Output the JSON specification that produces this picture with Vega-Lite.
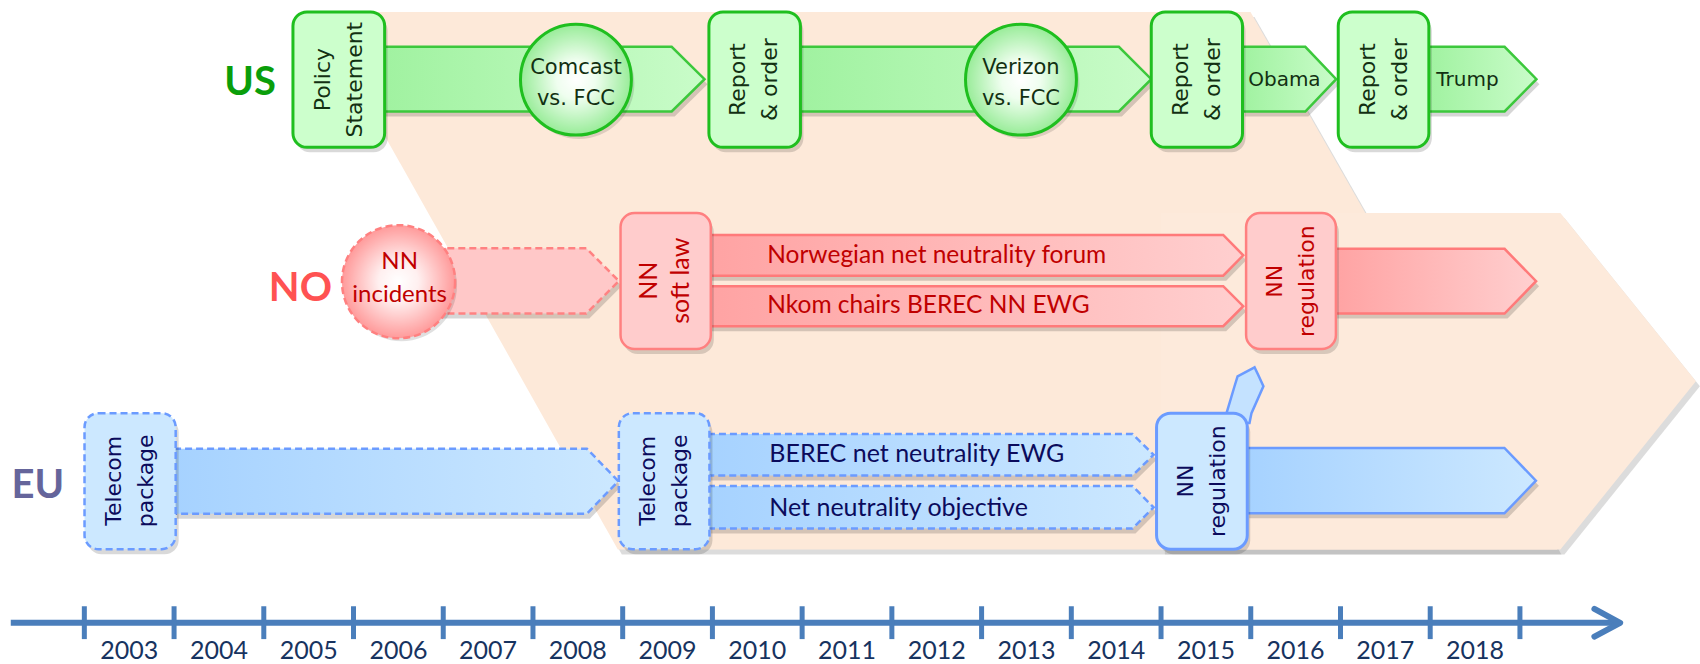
{
  "$schema": "https://vega.github.io/schema/vega-lite/v6.json",
  "width": 1700,
  "height": 664,
  "padding": 0,
  "autosize": {"type": "fit", "contains": "padding"},
  "background": "white",
  "config": {"view": {"stroke": null}},
  "datasets": {
    "peachA": [
      {"y": 12, "x": 2005.570, "x2": 2015.997},
      {"y": 552, "x": 2008.946, "x2": 2019.418}
    ],
    "peachB": [
      {"x": 2014.998, "y": 214, "y2": 552},
      {"x": 2019.451, "y": 214, "y2": 552},
      {"x": 2020.961, "y": 383, "y2": 383}
    ],
    "axisLine": [{"x": 2002.18, "x2": 2020.07, "y": 625.6}],
    "ticks": [
      {"x": 2003, "y": 609, "y2": 642}, {"x": 2004, "y": 609, "y2": 642}, {"x": 2005, "y": 609, "y2": 642},
      {"x": 2006, "y": 609, "y2": 642}, {"x": 2007, "y": 609, "y2": 642}, {"x": 2008, "y": 609, "y2": 642},
      {"x": 2009, "y": 609, "y2": 642}, {"x": 2010, "y": 609, "y2": 642}, {"x": 2011, "y": 609, "y2": 642},
      {"x": 2012, "y": 609, "y2": 642}, {"x": 2013, "y": 609, "y2": 642}, {"x": 2014, "y": 609, "y2": 642},
      {"x": 2015, "y": 609, "y2": 642}, {"x": 2016, "y": 609, "y2": 642}, {"x": 2017, "y": 609, "y2": 642},
      {"x": 2018, "y": 609, "y2": 642}, {"x": 2019, "y": 609, "y2": 642}
    ],
    "arrowHead": [
      {"x": 2019.83, "y": 611.7, "o": 1},
      {"x": 2020.117, "y": 625.6, "o": 2},
      {"x": 2019.83, "y": 639.5, "o": 3}
    ],
    "years": [
      {"t": "2003", "x": 2003.5, "y": 654}, {"t": "2004", "x": 2004.5, "y": 654},
      {"t": "2005", "x": 2005.5, "y": 654}, {"t": "2006", "x": 2006.5, "y": 654},
      {"t": "2007", "x": 2007.5, "y": 654}, {"t": "2008", "x": 2008.5, "y": 654},
      {"t": "2009", "x": 2009.5, "y": 654}, {"t": "2010", "x": 2010.5, "y": 654},
      {"t": "2011", "x": 2011.5, "y": 654}, {"t": "2012", "x": 2012.5, "y": 654},
      {"t": "2013", "x": 2013.5, "y": 654}, {"t": "2014", "x": 2014.5, "y": 654},
      {"t": "2015", "x": 2015.5, "y": 654}, {"t": "2016", "x": 2016.5, "y": 654},
      {"t": "2017", "x": 2017.5, "y": 654}, {"t": "2018", "x": 2018.5, "y": 654}
    ],
    "arrows": [
      {"g": "us", "a": "us1", "x": 2006.30, "y": 47, "y2": 112},
      {"g": "us", "a": "us1", "x": 2009.546, "y": 47, "y2": 112},
      {"g": "us", "a": "us1", "x": 2009.912, "y": 79.5, "y2": 79.5},
      {"g": "us", "a": "us2", "x": 2010.95, "y": 47, "y2": 112},
      {"g": "us", "a": "us2", "x": 2014.530, "y": 47, "y2": 112},
      {"g": "us", "a": "us2", "x": 2014.891, "y": 79.5, "y2": 79.5},
      {"g": "us", "a": "us3", "x": 2015.90, "y": 47, "y2": 112},
      {"g": "us", "a": "us3", "x": 2016.608, "y": 47, "y2": 112},
      {"g": "us", "a": "us3", "x": 2016.952, "y": 79.5, "y2": 79.5},
      {"g": "us", "a": "us4", "x": 2017.97, "y": 47, "y2": 112},
      {"g": "us", "a": "us4", "x": 2018.829, "y": 47, "y2": 112},
      {"g": "us", "a": "us4", "x": 2019.184, "y": 79.5, "y2": 79.5},
      {"g": "noD", "a": "noInc", "x": 2006.8, "y": 249.5, "y2": 315},
      {"g": "noD", "a": "noInc", "x": 2008.595, "y": 249.5, "y2": 315},
      {"g": "noD", "a": "noInc", "x": 2008.957, "y": 282.25, "y2": 282.25},
      {"g": "no", "a": "noNor", "x": 2009.95, "y": 236, "y2": 277},
      {"g": "no", "a": "noNor", "x": 2015.693, "y": 236, "y2": 277},
      {"g": "no", "a": "noNor", "x": 2015.916, "y": 256.5, "y2": 256.5},
      {"g": "no", "a": "noNkom", "x": 2009.95, "y": 287.5, "y2": 327.7},
      {"g": "no", "a": "noNkom", "x": 2015.693, "y": 287.5, "y2": 327.7},
      {"g": "no", "a": "noNkom", "x": 2015.916, "y": 307.6, "y2": 307.6},
      {"g": "no", "a": "noReg", "x": 2016.93, "y": 250, "y2": 315},
      {"g": "no", "a": "noReg", "x": 2018.829, "y": 250, "y2": 315},
      {"g": "no", "a": "noReg", "x": 2019.180, "y": 282.5, "y2": 282.5},
      {"g": "euD", "a": "eu1", "x": 2004.00, "y": 450.7, "y2": 516},
      {"g": "euD", "a": "eu1", "x": 2008.601, "y": 450.7, "y2": 516},
      {"g": "euD", "a": "eu1", "x": 2008.951, "y": 483.35, "y2": 483.35},
      {"g": "euD", "a": "euBerec", "x": 2009.95, "y": 436, "y2": 477.7},
      {"g": "euD", "a": "euBerec", "x": 2014.682, "y": 436, "y2": 477.7},
      {"g": "euD", "a": "euBerec", "x": 2014.917, "y": 456.85, "y2": 456.85},
      {"g": "euD", "a": "euObj", "x": 2009.95, "y": 488.3, "y2": 531},
      {"g": "euD", "a": "euObj", "x": 2014.682, "y": 488.3, "y2": 531},
      {"g": "euD", "a": "euObj", "x": 2014.917, "y": 509.65, "y2": 509.65},
      {"g": "eu", "a": "euReg", "x": 2015.95, "y": 450, "y2": 515.7},
      {"g": "eu", "a": "euReg", "x": 2018.827, "y": 450, "y2": 515.7},
      {"g": "eu", "a": "euReg", "x": 2019.178, "y": 482.85, "y2": 482.85}
    ],
    "euSmall": [
      {"y": 369, "x": 2016.042, "x2": 2016.042},
      {"y": 378, "x": 2015.853, "x2": 2016.090},
      {"y": 388, "x": 2015.819, "x2": 2016.141},
      {"y": 415, "x": 2015.730, "x2": 2016.008},
      {"y": 425, "x": 2015.697, "x2": 2015.986}
    ],
    "boxes": [
      {"g": "us", "x": 2005.325, "x2": 2006.347, "y": 12, "y2": 148},
      {"g": "us", "x": 2009.961, "x2": 2010.981, "y": 12, "y2": 148},
      {"g": "us", "x": 2014.891, "x2": 2015.908, "y": 12, "y2": 148},
      {"g": "us", "x": 2016.975, "x2": 2017.985, "y": 12, "y2": 148},
      {"g": "no", "x": 2008.976, "x2": 2009.982, "y": 214, "y2": 350.5},
      {"g": "no", "x": 2015.948, "x2": 2016.949, "y": 214, "y2": 350.5},
      {"g": "euD", "x": 2003.002, "x2": 2004.018, "y": 415, "y2": 551.7},
      {"g": "euD", "x": 2008.957, "x2": 2009.967, "y": 415, "y2": 551.7},
      {"g": "eu", "x": 2014.950, "x2": 2015.961, "y": 415, "y2": 551.7}
    ],
    "circles": [
      {"g": "us", "x": 2008.479, "y": 80},
      {"g": "us", "x": 2013.439, "y": 80},
      {"g": "no", "x": 2006.502, "y": 283}
    ],
    "texts": [
      {"g": "usBox", "t": "Policy\nStatement", "x": 2005.658, "y": 80},
      {"g": "usBox", "t": "Report\n& order", "x": 2010.289, "y": 80},
      {"g": "usBox", "t": "Report\n& order", "x": 2015.222, "y": 80},
      {"g": "usBox", "t": "Report\n& order", "x": 2017.302, "y": 80},
      {"g": "usCirc", "t": "Comcast\nvs. FCC", "x": 2008.479, "y": 68.5},
      {"g": "usCirc", "t": "Verizon\nvs. FCC", "x": 2013.439, "y": 68.5},
      {"g": "usArr", "t": "Obama", "x": 2016.375, "y": 80},
      {"g": "usArr", "t": "Trump", "x": 2018.415, "y": 80},
      {"g": "noCirc", "t": "NN\nincidents", "x": 2006.514, "y": 263},
      {"g": "noSoft", "t": "NN\nsoft law", "x": 2009.295, "y": 282},
      {"g": "noBox", "t": "NN\nregulation", "x": 2016.271, "y": 282.5},
      {"g": "noArr", "t": "Norwegian net neutrality forum", "x": 2010.611, "y": 257},
      {"g": "noArr", "t": "Nkom chairs BEREC NN EWG", "x": 2010.611, "y": 307},
      {"g": "euBox", "t": "Telecom\npackage", "x": 2003.332, "y": 483},
      {"g": "euBox", "t": "Telecom\npackage", "x": 2009.284, "y": 483},
      {"g": "euBox", "t": "NN\nregulation", "x": 2015.277, "y": 483.3},
      {"g": "euArr", "t": "BEREC net neutrality EWG", "x": 2010.634, "y": 456.5},
      {"g": "euArr", "t": "Net neutrality objective", "x": 2010.634, "y": 510}
    ],
    "labels": [
      {"t": "US", "x": 2004.848, "y": 83},
      {"t": "NO", "x": 2005.408, "y": 290},
      {"t": "EU", "x": 2002.483, "y": 488}
    ]
  },
  "encoding": {
    "x": {"field": "x", "type": "quantitative", "scale": {"domain": [2002.06, 2020.94], "nice": false, "zero": false}, "axis": null},
    "y": {"field": "y", "type": "quantitative", "scale": {"domain": [0, 664], "reverse": true, "nice": false, "zero": false}, "axis": null, "stack": null}
  },
  "layer": [
    {"data": {"name": "peachA"}, "mark": {"type": "area", "orient": "horizontal", "fill": "#8a8a8a", "fillOpacity": 0.3, "xOffset": 4, "x2Offset": 4, "yOffset": 5, "y2Offset": 5}, "encoding": {"x2": {"field": "x2"}}},
    {"data": {"name": "peachB"}, "mark": {"type": "area", "orient": "vertical", "fill": "#8a8a8a", "fillOpacity": 0.3, "xOffset": 4, "x2Offset": 4, "yOffset": 5, "y2Offset": 5}, "encoding": {"y2": {"field": "y2"}}},
    {"data": {"name": "peachA"}, "mark": {"type": "area", "orient": "horizontal", "fill": "#fde9d9"}, "encoding": {"x2": {"field": "x2"}}},
    {"data": {"name": "peachB"}, "mark": {"type": "area", "orient": "vertical", "fill": "#fdeadb"}, "encoding": {"y2": {"field": "y2"}}},
    {"data": {"name": "axisLine"}, "mark": {"type": "rule", "color": "#4a7ebb", "strokeWidth": 6}, "encoding": {"x2": {"field": "x2"}}},
    {"data": {"name": "ticks"}, "mark": {"type": "rule", "color": "#4a7ebb", "strokeWidth": 5}, "encoding": {"y2": {"field": "y2"}}},
    {"data": {"name": "arrowHead"}, "mark": {"type": "line", "color": "#4a7ebb", "strokeWidth": 6, "strokeCap": "round", "strokeJoin": "round"}, "encoding": {"order": {"field": "o", "type": "quantitative"}}},
    {"data": {"name": "years"}, "mark": {"type": "text", "font": "Lato", "fontSize": 25, "color": "#17335f", "align": "center", "baseline": "middle"}, "encoding": {"text": {"field": "t"}}},

    {"data": {"name": "arrows"}, "mark": {"type": "area", "orient": "vertical", "fill": "#000000", "fillOpacity": 0.16, "xOffset": 3, "x2Offset": 3, "yOffset": 5, "y2Offset": 5}, "encoding": {"y2": {"field": "y2"}, "detail": {"field": "a"}}},
    {"data": {"name": "arrows"}, "transform": [{"filter": "datum.g == 'us'"}], "mark": {"type": "area", "orient": "vertical", "fill": {"gradient": "linear", "x1": 0, "y1": 0, "x2": 1, "y2": 0, "stops": [{"offset": 0, "color": "#a0f2a0"}, {"offset": 1, "color": "#c9fcc9"}]}, "stroke": "#3cc83c", "strokeWidth": 2.5}, "encoding": {"y2": {"field": "y2"}, "detail": {"field": "a"}}},
    {"data": {"name": "arrows"}, "transform": [{"filter": "datum.g == 'noD'"}], "mark": {"type": "area", "orient": "vertical", "fill": "#ffc8c8", "stroke": "#ff8282", "strokeWidth": 2.5, "strokeDash": [7, 4]}, "encoding": {"y2": {"field": "y2"}, "detail": {"field": "a"}}},
    {"data": {"name": "arrows"}, "transform": [{"filter": "datum.g == 'no'"}], "mark": {"type": "area", "orient": "vertical", "fill": {"gradient": "linear", "x1": 0, "y1": 0, "x2": 1, "y2": 0, "stops": [{"offset": 0, "color": "#ffa3a3"}, {"offset": 1, "color": "#ffcfcf"}]}, "stroke": "#ff7a7a", "strokeWidth": 2.5}, "encoding": {"y2": {"field": "y2"}, "detail": {"field": "a"}}},
    {"data": {"name": "arrows"}, "transform": [{"filter": "datum.g == 'euD'"}], "mark": {"type": "area", "orient": "vertical", "fill": {"gradient": "linear", "x1": 0, "y1": 0, "x2": 1, "y2": 0, "stops": [{"offset": 0, "color": "#a6d2ff"}, {"offset": 1, "color": "#cce8ff"}]}, "stroke": "#6b9bff", "strokeWidth": 2.5, "strokeDash": [7, 4]}, "encoding": {"y2": {"field": "y2"}, "detail": {"field": "a"}}},
    {"data": {"name": "arrows"}, "transform": [{"filter": "datum.g == 'eu'"}], "mark": {"type": "area", "orient": "vertical", "fill": {"gradient": "linear", "x1": 0, "y1": 0, "x2": 1, "y2": 0, "stops": [{"offset": 0, "color": "#a6d2ff"}, {"offset": 1, "color": "#cce8ff"}]}, "stroke": "#6b9bff", "strokeWidth": 2.5}, "encoding": {"y2": {"field": "y2"}, "detail": {"field": "a"}}},
    {"data": {"name": "euSmall"}, "mark": {"type": "area", "orient": "horizontal", "fill": "#c4e2ff", "stroke": "#6b9bff", "strokeWidth": 2.5}, "encoding": {"x2": {"field": "x2"}}},

    {"data": {"name": "boxes"}, "mark": {"type": "rect", "cornerRadius": 14, "fill": "#000000", "fillOpacity": 0.15, "xOffset": 3, "x2Offset": 3, "yOffset": 5, "y2Offset": 5}, "encoding": {"x2": {"field": "x2"}, "y2": {"field": "y2"}}},
    {"data": {"name": "boxes"}, "transform": [{"filter": "datum.g == 'us'"}], "mark": {"type": "rect", "cornerRadius": 14, "fill": "#ccffcc", "stroke": "#1fbf1f", "strokeWidth": 3}, "encoding": {"x2": {"field": "x2"}, "y2": {"field": "y2"}}},
    {"data": {"name": "boxes"}, "transform": [{"filter": "datum.g == 'no'"}], "mark": {"type": "rect", "cornerRadius": 14, "fill": "#ffcccc", "stroke": "#ff8080", "strokeWidth": 2.5}, "encoding": {"x2": {"field": "x2"}, "y2": {"field": "y2"}}},
    {"data": {"name": "boxes"}, "transform": [{"filter": "datum.g == 'euD'"}], "mark": {"type": "rect", "cornerRadius": 14, "fill": "#cce8ff", "stroke": "#6b9bff", "strokeWidth": 2.5, "strokeDash": [7, 4]}, "encoding": {"x2": {"field": "x2"}, "y2": {"field": "y2"}}},
    {"data": {"name": "boxes"}, "transform": [{"filter": "datum.g == 'eu'"}], "mark": {"type": "rect", "cornerRadius": 14, "fill": "#cce8ff", "stroke": "#6b9bff", "strokeWidth": 3}, "encoding": {"x2": {"field": "x2"}, "y2": {"field": "y2"}}},

    {"data": {"name": "circles"}, "mark": {"type": "point", "shape": "circle", "filled": true, "size": 12300, "fill": "#000000", "opacity": 0.12, "xOffset": 3, "yOffset": 4}},
    {"data": {"name": "circles"}, "transform": [{"filter": "datum.g == 'us'"}], "mark": {"type": "point", "shape": "circle", "filled": true, "size": 12300, "opacity": 1, "fill": {"gradient": "radial", "x1": 0.5, "y1": 0.5, "r1": 0, "x2": 0.5, "y2": 0.5, "r2": 0.5, "stops": [{"offset": 0, "color": "#ffffff"}, {"offset": 0.35, "color": "#effeef"}, {"offset": 1, "color": "#98ec98"}]}, "stroke": "#1fbf1f", "strokeWidth": 3}},
    {"data": {"name": "circles"}, "transform": [{"filter": "datum.g == 'no'"}], "mark": {"type": "point", "shape": "circle", "filled": true, "size": 12800, "opacity": 1, "fill": {"gradient": "radial", "x1": 0.5, "y1": 0.5, "r1": 0, "x2": 0.5, "y2": 0.5, "r2": 0.5, "stops": [{"offset": 0, "color": "#ffffff"}, {"offset": 0.35, "color": "#fff0f0"}, {"offset": 1, "color": "#ff9a9a"}]}, "stroke": "#ff8080", "strokeWidth": 2.5, "strokeDash": [7, 4]}},

    {"data": {"name": "texts"}, "transform": [{"filter": "datum.g == 'usBox'"}], "mark": {"type": "text", "font": "DejaVu Sans", "fontSize": 22, "lineHeight": 32, "lineBreak": "\n", "angle": -90, "align": "center", "baseline": "middle", "color": "#123012"}, "encoding": {"text": {"field": "t"}}},
    {"data": {"name": "texts"}, "transform": [{"filter": "datum.g == 'usCirc'"}], "mark": {"type": "text", "font": "DejaVu Sans", "fontSize": 21, "lineHeight": 31, "lineBreak": "\n", "align": "center", "baseline": "middle", "color": "#123012"}, "encoding": {"text": {"field": "t"}}},
    {"data": {"name": "texts"}, "transform": [{"filter": "datum.g == 'usArr'"}], "mark": {"type": "text", "font": "DejaVu Sans", "fontSize": 20, "align": "center", "baseline": "middle", "color": "#123012"}, "encoding": {"text": {"field": "t"}}},
    {"data": {"name": "texts"}, "transform": [{"filter": "datum.g == 'noCirc'"}], "mark": {"type": "text", "font": "Lato", "fontSize": 24, "lineHeight": 33, "lineBreak": "\n", "align": "center", "baseline": "middle", "color": "#c00000"}, "encoding": {"text": {"field": "t"}}},
    {"data": {"name": "texts"}, "transform": [{"filter": "datum.g == 'noSoft'"}], "mark": {"type": "text", "font": "Lato", "fontSize": 25, "lineHeight": 32, "lineBreak": "\n", "angle": -90, "align": "center", "baseline": "middle", "color": "#c00000"}, "encoding": {"text": {"field": "t"}}},
    {"data": {"name": "texts"}, "transform": [{"filter": "datum.g == 'noBox'"}], "mark": {"type": "text", "font": "DejaVu Sans", "fontSize": 22, "lineHeight": 32, "lineBreak": "\n", "angle": -90, "align": "center", "baseline": "middle", "color": "#c00000"}, "encoding": {"text": {"field": "t"}}},
    {"data": {"name": "texts"}, "transform": [{"filter": "datum.g == 'noArr'"}], "mark": {"type": "text", "font": "Lato", "fontSize": 24.5, "align": "left", "baseline": "middle", "color": "#c00000"}, "encoding": {"text": {"field": "t"}}},
    {"data": {"name": "texts"}, "transform": [{"filter": "datum.g == 'euBox'"}], "mark": {"type": "text", "font": "DejaVu Sans", "fontSize": 22, "lineHeight": 32, "lineBreak": "\n", "angle": -90, "align": "center", "baseline": "middle", "color": "#0b0b5c"}, "encoding": {"text": {"field": "t"}}},
    {"data": {"name": "texts"}, "transform": [{"filter": "datum.g == 'euArr'"}], "mark": {"type": "text", "font": "Lato", "fontSize": 25, "align": "left", "baseline": "middle", "color": "#0b0b5c"}, "encoding": {"text": {"field": "t"}}},
    {"data": {"name": "labels"}, "mark": {"type": "text", "font": "Lato", "fontSize": 40, "fontWeight": "bold", "align": "center", "baseline": "middle"}, "encoding": {"text": {"field": "t"}, "color": {"field": "t", "type": "nominal", "scale": {"domain": ["US", "NO", "EU"], "range": ["#0a9e0a", "#ff5252", "#65659b"]}, "legend": null}}}
  ]
}
